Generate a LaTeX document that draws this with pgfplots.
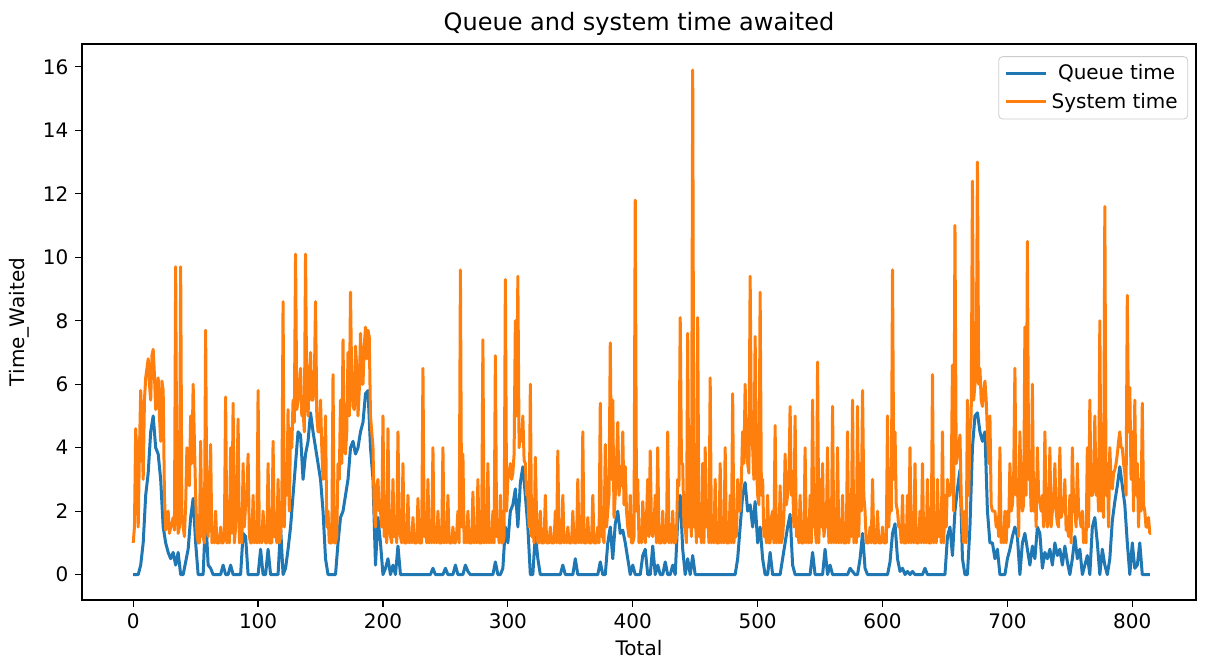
\documentclass[border=0pt]{standalone}
\usepackage{pgfplots}
\pgfplotsset{compat=1.18}
\usepackage{pgfplotstable}
\usepackage{fontspec}
\setmainfont{DejaVu Sans}
\definecolor{mplblue}{HTML}{1F77B4}
\definecolor{mplorange}{HTML}{FF7F0E}

% System time, index 0..815
\pgfplotstableread[header=false,row sep=\\]{
1.0\\1.5\\4.6\\3.8\\1.5\\3.9\\5.8\\4.5\\3.0\\5.5\\6.2\\6.5\\6.8\\6.0\\5.5\\6.9\\7.1\\6.3\\5.2\\5.8\\
6.2\\5.0\\4.2\\6.1\\5.8\\2.5\\1.4\\1.8\\2.0\\1.3\\1.5\\1.6\\1.8\\1.4\\9.7\\2.0\\1.3\\1.5\\9.7\\1.8\\
1.5\\1.2\\2.2\\4.0\\3.0\\2.8\\5.0\\3.5\\6.0\\4.2\\2.5\\1.3\\1.0\\1.0\\4.2\\1.2\\1.2\\1.0\\7.7\\1.5\\
1.2\\2.5\\4.1\\1.0\\1.5\\1.0\\2.0\\1.0\\1.0\\1.0\\1.5\\1.0\\1.0\\1.2\\5.6\\1.0\\2.0\\1.0\\4.0\\1.3\\
5.4\\1.0\\1.5\\2.8\\4.9\\1.0\\1.2\\1.0\\3.5\\1.5\\2.2\\2.5\\3.8\\1.2\\1.0\\1.0\\2.5\\1.0\\1.2\\1.0\\
5.8\\1.0\\1.5\\1.0\\2.0\\1.2\\1.0\\1.0\\3.5\\1.0\\1.0\\1.0\\4.2\\1.2\\1.5\\1.0\\3.0\\1.0\\1.2\\2.0\\
8.6\\1.5\\3.5\\2.5\\5.2\\2.0\\4.6\\4.0\\5.5\\4.8\\10.1\\5.2\\5.5\\5.8\\6.5\\5.0\\5.2\\4.5\\10.1\\5.5\\
5.0\\6.2\\7.0\\5.5\\5.5\\6.0\\8.6\\5.0\\4.5\\4.5\\5.5\\4.0\\3.0\\3.5\\5.0\\1.5\\2.0\\1.0\\1.0\\1.0\\
6.3\\1.0\\1.0\\1.2\\3.5\\3.0\\5.5\\3.5\\7.4\\4.0\\3.8\\4.5\\7.0\\5.0\\8.9\\6.0\\5.3\\5.2\\7.2\\6.5\\
5.0\\5.8\\7.6\\6.0\\6.0\\7.2\\7.8\\6.8\\7.7\\7.5\\5.0\\4.5\\4.0\\2.0\\1.5\\2.8\\3.0\\2.0\\2.0\\1.5\\
5.0\\1.2\\1.5\\1.0\\4.6\\1.5\\1.2\\1.0\\3.0\\1.2\\1.5\\1.0\\4.5\\1.5\\1.2\\1.0\\3.5\\1.0\\1.0\\1.0\\
2.5\\1.0\\1.2\\1.0\\1.8\\1.0\\1.0\\1.0\\2.4\\1.0\\1.0\\1.0\\6.5\\1.2\\1.8\\1.0\\3.0\\1.0\\1.2\\1.0\\
4.0\\1.0\\1.5\\1.0\\2.0\\1.0\\1.0\\1.0\\4.0\\1.0\\1.2\\1.0\\2.5\\1.0\\1.0\\1.0\\1.5\\1.0\\1.0\\1.3\\
2.0\\1.0\\9.6\\1.5\\3.8\\1.0\\1.5\\1.0\\2.0\\1.0\\1.0\\1.0\\2.6\\1.0\\1.2\\1.0\\3.0\\1.0\\1.0\\1.0\\
7.4\\1.0\\1.5\\1.0\\3.5\\1.0\\1.2\\1.0\\2.0\\1.0\\6.9\\1.2\\1.5\\1.0\\2.5\\1.0\\1.0\\1.2\\9.3\\2.0\\
3.0\\3.2\\3.5\\3.0\\3.2\\3.8\\8.0\\5.0\\9.4\\4.0\\4.5\\4.2\\5.0\\3.6\\3.5\\2.5\\2.5\\1.5\\6.0\\1.2\\
1.5\\1.0\\3.7\\1.8\\1.0\\1.0\\2.0\\1.0\\1.0\\1.0\\2.5\\1.0\\1.0\\1.0\\1.5\\1.0\\1.0\\1.0\\2.0\\1.0\\
3.9\\1.0\\1.0\\1.0\\2.5\\1.0\\1.2\\1.0\\1.5\\1.0\\1.0\\1.0\\2.0\\1.0\\1.0\\1.0\\3.0\\1.0\\1.2\\1.0\\
4.5\\1.0\\1.0\\1.0\\1.8\\1.0\\1.0\\1.0\\2.5\\1.0\\1.0\\1.0\\1.5\\1.0\\5.4\\1.2\\1.2\\1.0\\4.1\\1.5\\
2.0\\2.5\\7.3\\3.0\\5.5\\1.8\\2.5\\3.5\\4.8\\2.5\\3.0\\2.8\\4.5\\2.2\\3.4\\2.0\\1.5\\1.2\\2.5\\1.0\\
1.0\\1.2\\11.8\\2.0\\3.0\\1.0\\1.5\\1.0\\2.3\\1.5\\1.0\\1.8\\3.0\\1.2\\3.9\\1.5\\1.2\\1.5\\2.5\\1.0\\
4.0\\1.0\\1.0\\1.0\\2.0\\1.0\\1.0\\1.2\\4.5\\1.0\\1.5\\1.0\\2.0\\1.0\\1.0\\1.2\\3.0\\2.8\\8.1\\3.5\\
3.5\\1.5\\1.5\\1.0\\7.6\\1.5\\2.0\\1.2\\15.9\\1.5\\2.0\\1.0\\8.1\\1.2\\1.5\\1.0\\3.5\\1.0\\4.0\\1.5\\
2.0\\1.0\\6.2\\1.0\\1.5\\1.0\\3.0\\1.0\\1.0\\1.0\\3.5\\1.0\\1.2\\1.0\\4.0\\1.0\\1.0\\1.0\\2.5\\1.0\\
5.7\\1.0\\1.5\\1.2\\3.0\\2.0\\2.0\\3.0\\4.5\\3.5\\6.0\\4.0\\3.5\\3.2\\9.4\\4.5\\4.0\\3.0\\7.5\\3.5\\
2.5\\2.2\\8.9\\2.5\\3.0\\1.2\\1.5\\1.0\\2.5\\1.0\\1.0\\1.8\\2.0\\1.0\\4.7\\1.0\\1.5\\1.0\\2.8\\1.0\\
1.2\\1.8\\3.8\\2.2\\2.5\\3.0\\5.3\\2.5\\3.0\\1.5\\5.0\\1.2\\1.8\\1.0\\2.5\\1.0\\1.0\\1.0\\4.0\\1.0\\
1.5\\1.0\\2.5\\1.0\\5.5\\1.5\\1.5\\1.0\\6.7\\1.0\\3.0\\1.5\\3.5\\1.2\\1.5\\1.5\\4.0\\1.0\\2.0\\1.0\\
5.3\\1.0\\2.0\\1.0\\4.0\\1.0\\1.5\\1.0\\2.5\\1.0\\1.0\\1.0\\4.5\\1.0\\1.5\\1.2\\5.5\\1.0\\2.0\\1.0\\
5.3\\1.2\\3.5\\2.0\\5.8\\2.5\\2.0\\1.0\\1.0\\1.0\\1.5\\1.0\\3.0\\1.0\\1.0\\1.0\\2.0\\1.0\\1.0\\1.0\\
1.5\\1.0\\1.0\\1.0\\5.0\\1.5\\2.5\\2.0\\9.6\\3.0\\4.5\\2.2\\2.0\\1.5\\1.5\\1.0\\2.5\\1.0\\1.0\\1.0\\
2.5\\1.0\\4.0\\1.0\\1.5\\1.0\\3.5\\1.0\\1.0\\1.0\\2.0\\1.0\\3.5\\1.0\\1.2\\1.0\\3.0\\1.0\\1.0\\1.0\\
6.3\\1.0\\1.5\\1.0\\3.0\\1.2\\2.0\\1.0\\4.5\\1.0\\2.5\\1.5\\3.0\\2.5\\2.5\\2.8\\6.6\\2.0\\11.0\\3.5\\
3.8\\4.0\\4.4\\2.5\\1.6\\1.0\\2.0\\1.0\\5.5\\2.5\\4.5\\5.0\\12.4\\5.5\\6.0\\6.2\\13.0\\6.0\\6.5\\5.5\\
5.3\\5.8\\6.1\\5.5\\4.5\\3.5\\5.0\\2.2\\2.0\\2.0\\2.0\\1.5\\1.8\\1.2\\4.0\\1.0\\1.5\\1.0\\2.0\\1.0\\
2.0\\1.5\\3.5\\2.0\\2.2\\3.0\\6.5\\2.5\\3.0\\1.2\\4.5\\2.5\\2.0\\2.2\\7.8\\2.5\\10.5\\3.0\\3.3\\2.0\\
6.0\\2.0\\3.0\\1.5\\4.0\\2.5\\2.3\\2.0\\2.5\\1.5\\4.5\\2.0\\1.5\\1.8\\4.0\\1.5\\2.0\\2.2\\3.5\\2.0\\
1.6\\1.5\\4.0\\1.8\\2.0\\2.0\\3.0\\1.4\\1.5\\1.2\\2.5\\1.0\\4.0\\2.2\\2.0\\1.5\\3.5\\2.0\\1.8\\1.5\\
2.0\\1.0\\1.3\\1.0\\4.0\\1.5\\5.5\\2.5\\2.5\\2.8\\5.0\\2.5\\3.0\\2.0\\8.0\\2.0\\3.0\\1.8\\11.6\\2.5\\
3.5\\1.5\\4.0\\3.0\\2.7\\3.2\\3.3\\3.5\\3.8\\4.2\\4.5\\4.0\\4.0\\3.5\\3.2\\2.5\\8.8\\4.5\\5.9\\3.0\\
4.5\\2.0\\5.5\\2.5\\3.5\\1.5\\3.0\\2.0\\5.4\\2.2\\2.0\\1.5\\1.5\\1.8\\1.3\\1.3\\
}\systab

% Queue time, index 0,2,4,...,814
\pgfplotstableread[header=false,row sep=\\]{
0\\0\\0\\0.3\\1.0\\2.5\\3.2\\4.5\\5.0\\4.0\\
3.8\\3.0\\1.5\\1.0\\0.7\\0.5\\0.7\\0.3\\0.7\\0\\
0\\0.4\\0.8\\1.8\\2.4\\1.0\\0\\0\\0\\1.9\\
0.3\\0.2\\0\\0\\0\\0\\0.3\\0\\0\\0.3\\
0\\0\\0\\0\\1.3\\1.2\\0\\0\\0\\0\\
0\\0.8\\0\\0\\0.8\\0\\0\\0\\0\\1.5\\
0\\0.2\\0.8\\1.5\\2.5\\3.5\\4.5\\4.4\\3.0\\3.8\\
4.2\\5.1\\4.5\\4.0\\3.5\\3.0\\2.0\\0.5\\0\\0\\
0\\0\\1.0\\1.8\\2.0\\2.5\\3.0\\4.0\\4.2\\3.8\\
4.0\\4.5\\4.8\\5.7\\5.8\\4.0\\3.0\\0.3\\1.8\\1.0\\
0\\0.2\\0.5\\0\\0.3\\0\\0.9\\0\\0\\0\\
0\\0\\0\\0\\0\\0\\0\\0\\0\\0\\
0.2\\0\\0\\0\\0\\0.2\\0\\0\\0\\0.3\\
0\\0\\0\\0.3\\0.1\\0\\0\\0\\0\\0\\
0\\0\\0\\0\\0\\0.4\\0\\0\\0.2\\1.5\\
1.0\\2.0\\2.2\\2.7\\1.5\\2.9\\3.4\\2.5\\1.5\\0\\
0\\1.3\\0.5\\0\\0\\0\\0\\0\\0\\0\\
0\\0\\0.3\\0\\0\\0\\0\\0.5\\0\\0\\
0\\0\\0\\0\\0\\0\\0\\0.4\\0\\0\\
1.0\\1.5\\0.5\\1.6\\2.0\\1.3\\1.4\\1.0\\0.5\\0\\
0.3\\0\\0\\0\\0.6\\0.8\\0\\0\\0.9\\0\\
0.3\\0\\0\\0.4\\0\\0\\0.3\\0\\1.7\\2.5\\
0.8\\0\\0.5\\0\\0.6\\0\\0\\0\\0\\0\\
0\\0\\0\\0\\0\\0\\0\\0\\0\\0\\
0\\0\\0.5\\1.5\\2.5\\2.9\\2.0\\2.2\\1.5\\2.3\\
1.0\\1.5\\0.5\\0\\0\\0.7\\0\\0\\0\\0\\
0.5\\1.0\\1.5\\1.9\\0.3\\0\\0\\0\\0\\0\\
0\\0\\0.7\\0\\0\\0\\0\\0.8\\0\\0.3\\
0\\0\\0\\0\\0\\0\\0\\0.2\\0.1\\0\\
0\\0.5\\1.3\\0.2\\0\\0\\0\\0\\0\\0\\
0\\0\\0\\0.4\\1.3\\1.6\\0.5\\0.1\\0.2\\0\\
0.1\\0\\0.1\\0\\0\\0\\0\\0.2\\0\\0\\
0\\0\\0\\0\\0\\0\\1.2\\1.5\\0.6\\2.0\\
2.7\\3.3\\0.5\\0\\0\\1.5\\4.0\\5.0\\5.1\\4.5\\
4.2\\4.5\\2.0\\1.0\\1.0\\0.5\\0.8\\0\\0\\0\\
0.5\\0.8\\1.2\\1.5\\1.2\\0\\1.0\\1.3\\0.8\\0.3\\
0.9\\0.5\\1.5\\1.3\\0.2\\0.7\\0.5\\0.8\\0.3\\1.0\\
0.6\\0.8\\0.3\\0.9\\0.4\\0\\0.5\\1.2\\0.5\\0.8\\
0\\0.3\\0.6\\0\\1.5\\1.8\\1.0\\0\\0.8\\0.3\\
0\\0.5\\1.7\\2.3\\2.8\\3.4\\2.8\\2.2\\1.0\\0\\
1.0\\0.2\\0.3\\1.0\\0\\0\\0\\0\\
}\quetab

\begin{document}
\begin{tikzpicture}
\path (0pt,0pt) rectangle (603.5pt,329.5pt);
\begin{axis}[
  at={(41pt,29.5pt)}, anchor=south west,
  width=557pt, height=278pt, scale only axis,
  xmin=-41, xmax=851, ymin=-0.8, ymax=16.72,
  xtick={0,100,...,800}, ytick={0,2,...,16},
  tick align=outside, tick pos=left,
  major tick length=3.3pt,
  axis line style={line width=0.6pt},
  every tick/.style={line width=0.6pt, black},
  tick label style={font=\fontsize{10}{12}\selectfont},
  /pgf/number format/assume math mode=true,
  xlabel={Total}, ylabel={Time\_Waited},
  label style={font=\fontsize{10}{12}\selectfont},
  xlabel style={yshift=1pt},
  ylabel style={yshift=0pt},
  title={Queue and system time awaited},
  title style={font=\fontsize{12}{14}\selectfont, yshift=-5.5pt},
  legend style={at={(0.993,0.978)}, anchor=north east, draw=black!20,
    rounded corners=2pt, font=\fontsize{10}{12}\selectfont,
    row sep=1pt, inner xsep=3pt, inner ysep=2pt},
  legend cell align=left,
  legend image code/.code={\draw[#1, line width=1.5pt] (0pt,0pt) -- (20pt,0pt);},
]
\addplot[mplblue, line width=1.5pt, line join=round] table[x expr=\coordindex*2, y index=0] {\quetab};
\addlegendentry{\ Queue time}
\addplot[mplorange, line width=1.5pt, line join=round] table[x expr=\coordindex, y index=0] {\systab};
\addlegendentry{System time}
\end{axis}
\end{tikzpicture}
\end{document}
